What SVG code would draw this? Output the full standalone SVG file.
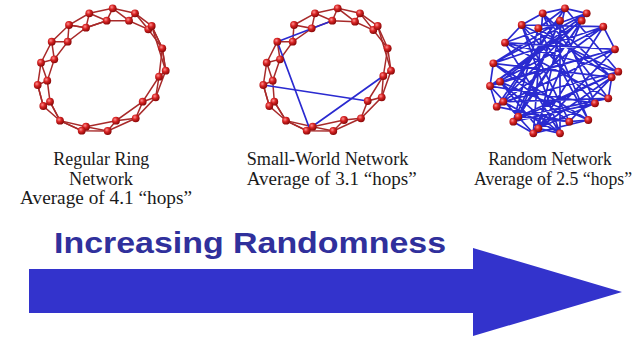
<svg xmlns="http://www.w3.org/2000/svg" width="640" height="337" viewBox="0 0 640 337">
<style>
.ring{stroke:#a82a2a;stroke-width:1.5;fill:none;stroke-linecap:round}
.blue{stroke:#2a2ad0;stroke-width:1.7;fill:none;stroke-linecap:round}
.ball{fill:url(#ballg)}
.lbl{font-family:"Liberation Serif","Times New Roman",serif;font-size:18.5px;fill:#1a1a1a}
.title{font-family:"Liberation Sans",Arial,sans-serif;font-weight:bold;font-size:30px;fill:#30309c}
</style>
<defs>
<radialGradient id="ballg" cx="0.38" cy="0.35" r="0.65">
<stop offset="0" stop-color="#ff9090"/>
<stop offset="0.45" stop-color="#d82424"/>
<stop offset="1" stop-color="#8a0808"/>
</radialGradient>
<circle id="b" r="3.9" class="ball"/>
</defs>
<rect width="640" height="337" fill="#ffffff"/>

<g id="regular-ring-network">
<g class="ring">
<path d="M89.3,13.3L106.7,20.7L112.7,8.3L129,20.7L135,13.3L148.3,29.3L151.7,26L162.3,48.3L165.7,70.7L159,76.7L155.7,97.3L142.7,101.7L135.7,118.3L116,120.7L107.7,131L86,126.7L81.7,130.7L60,120.7L50,101.7L43.3,106L37.7,85L47.3,80.7L41,62.7L54.3,59.3L51.7,41.7L67.7,41.7L69,25L86,27.7Z"/>
<path d="M89.3,13.3L112.7,8.3L135,13.3L151.7,26L165.7,70.7L155.7,97.3L135.7,118.3L107.7,131L81.7,130.7L60,120.7L43.3,106L37.7,85L41,62.7L51.7,41.7L69,25Z"/>
<path d="M106.7,20.7L129,20.7L148.3,29.3L162.3,48.3L159,76.7L142.7,101.7L116,120.7L86,126.7L60,120.7L50,101.7L47.3,80.7L54.3,59.3L67.7,41.7L86,27.7Z"/>
<path d="M162.3,48.3L165.7,70.7M151.7,26L162.3,48.3M86,27.7L106.7,20.7M69,25L86,27.7"/>
</g>
<g>
<use href="#b" x="89.3" y="13.3"/><use href="#b" x="106.7" y="20.7"/><use href="#b" x="112.7" y="8.3"/><use href="#b" x="129" y="20.7"/><use href="#b" x="135" y="13.3"/><use href="#b" x="148.3" y="29.3"/><use href="#b" x="151.7" y="26"/><use href="#b" x="162.3" y="48.3"/><use href="#b" x="165.7" y="70.7"/><use href="#b" x="159" y="76.7"/><use href="#b" x="155.7" y="97.3"/><use href="#b" x="142.7" y="101.7"/><use href="#b" x="135.7" y="118.3"/><use href="#b" x="116" y="120.7"/><use href="#b" x="107.7" y="131"/><use href="#b" x="86" y="126.7"/><use href="#b" x="81.7" y="130.7"/><use href="#b" x="60" y="120.7"/><use href="#b" x="50" y="101.7"/><use href="#b" x="43.3" y="106"/><use href="#b" x="37.7" y="85"/><use href="#b" x="47.3" y="80.7"/><use href="#b" x="41" y="62.7"/><use href="#b" x="54.3" y="59.3"/><use href="#b" x="51.7" y="41.7"/><use href="#b" x="67.7" y="41.7"/><use href="#b" x="69" y="25"/><use href="#b" x="86" y="27.7"/>
</g>
</g>

<g id="small-world-network">
<g class="ring">
<path d="M315,13.3L332.3,20.7L337.7,8.3L355,21.7L360,13.3L373.3,30L377.7,26L387.7,48.3L391,70.7L383.3,76L381.7,97.3L367.7,101L361,118.3L344,120L333.3,131L312.7,126.7L306.7,130.7L286,120.7L274.3,101.7L269.3,106L263.3,85L272.7,80.7L266.7,62.7L280,59.3L277.3,41.7L292.7,41.7L294,25L311.7,28.3Z"/>
<path d="M315,13.3L337.7,8.3L360,13.3L377.7,26L391,70.7L381.7,97.3L361,118.3L333.3,131L306.7,130.7L286,120.7L269.3,106L263.3,85L266.7,62.7L277.3,41.7"/>
<path d="M294,25L315,13.3"/>
<path d="M332.3,20.7L355,21.7L373.3,30L387.7,48.3L383.3,76L367.7,101M344,120L312.7,126.7L286,120.7L274.3,101.7L272.7,80.7L280,59.3L292.7,41.7L311.7,28.3L332.3,20.7"/>
</g>
<g class="blue">
<path d="M277.3,41.7L309.5,128.5"/>
<path d="M309.5,128.5L383.3,76"/>
<path d="M263.3,85L367.7,101"/>
<path d="M277.3,41.7L332.3,20.7"/>
</g>
<g>
<use href="#b" x="315" y="13.3"/><use href="#b" x="332.3" y="20.7"/><use href="#b" x="337.7" y="8.3"/><use href="#b" x="355" y="21.7"/><use href="#b" x="360" y="13.3"/><use href="#b" x="373.3" y="30"/><use href="#b" x="377.7" y="26"/><use href="#b" x="387.7" y="48.3"/><use href="#b" x="391" y="70.7"/><use href="#b" x="383.3" y="76"/><use href="#b" x="381.7" y="97.3"/><use href="#b" x="367.7" y="101"/><use href="#b" x="361" y="118.3"/><use href="#b" x="344" y="120"/><use href="#b" x="333.3" y="131"/><use href="#b" x="312.7" y="126.7"/><use href="#b" x="306.7" y="130.7"/><use href="#b" x="286" y="120.7"/><use href="#b" x="274.3" y="101.7"/><use href="#b" x="269.3" y="106"/><use href="#b" x="263.3" y="85"/><use href="#b" x="272.7" y="80.7"/><use href="#b" x="266.7" y="62.7"/><use href="#b" x="280" y="59.3"/><use href="#b" x="277.3" y="41.7"/><use href="#b" x="292.7" y="41.7"/><use href="#b" x="294" y="25"/><use href="#b" x="311.7" y="28.3"/>
</g>
</g>

<g id="random-network">
<g class="blue">
<path d="M565,8.3L538.3,128.3M565,8.3L496.7,106.7M565,8.3L618.3,71.7M586.7,13.3L490,86M586.7,13.3L513.3,121.7M586.7,13.3L505,42.7M542.7,13.3L608.3,98.3M542.7,13.3L588.3,120M542.7,13.3L611.7,77.3M560,20.7L560,133.3M560,20.7L493.3,63.3M560,20.7L595,103.3M581.7,20.7L500,81.7M581.7,20.7L533.3,133.3M581.7,20.7L518.3,116.7M603.3,26.7L490,86M603.3,26.7L538.3,128.3M603.3,26.7L521.7,25M521.7,25L569.3,121.7M521.7,25L595,103.3M521.7,25L618.3,71.7M538.3,28.3L588.3,120M538.3,28.3L611.7,77.3M538.3,28.3L513.3,121.7M505,42.7L615,49.3M505,42.7L560,133.3M505,42.7L608.3,98.3M615,49.3L496.7,106.7M615,49.3L533.3,133.3M615,49.3L500,81.7M493.3,63.3L611.7,77.3M493.3,63.3L569.3,121.7M493.3,63.3L603.3,26.7M618.3,71.7L503.3,101.7M618.3,71.7L518.3,116.7M611.7,77.3L538.3,128.3M490,86L595,103.3M490,86L615,49.3M500,81.7L588.3,120M500,81.7L560,133.3M608.3,98.3L518.3,116.7M608.3,98.3L503.3,101.7M595,103.3L513.3,121.7M496.7,106.7L569.3,121.7M496.7,106.7L586.7,13.3M503.3,101.7L560,133.3M503.3,101.7L603.3,26.7M588.3,120L533.3,133.3M588.3,120L493.3,63.3M569.3,121.7L518.3,116.7M560,133.3L521.7,25M538.3,128.3L500,81.7M533.3,133.3L542.7,13.3M513.3,121.7L618.3,71.7M518.3,116.7L560,20.7M565,8.3L538.3,28.3M542.7,13.3L521.7,25M611.7,77.3L569.3,121.7M595,103.3L538.3,128.3M490,86L581.7,20.7M503.3,101.7L565,8.3M513.3,121.7L560,20.7M618.3,71.7L505,42.7M533.3,133.3L490,86M586.7,13.3L493.3,63.3"/>
<path d="M565,8.3L586.7,13.3M542.7,13.3L565,8.3M521.7,25L505,42.7M493.3,63.3L490,86M496.7,106.7L503.3,101.7M560,133.3L538.3,128.3M611.7,77.3L608.3,98.3M588.3,120L569.3,121.7M603.3,26.7L615,49.3M490,86L496.7,106.7M513.3,121.7L533.3,133.3"/>
</g>
<g>
<use href="#b" x="565" y="8.3"/><use href="#b" x="586.7" y="13.3"/><use href="#b" x="542.7" y="13.3"/><use href="#b" x="560" y="20.7"/><use href="#b" x="581.7" y="20.7"/><use href="#b" x="603.3" y="26.7"/><use href="#b" x="521.7" y="25"/><use href="#b" x="538.3" y="28.3"/><use href="#b" x="505" y="42.7"/><use href="#b" x="615" y="49.3"/><use href="#b" x="493.3" y="63.3"/><use href="#b" x="618.3" y="71.7"/><use href="#b" x="611.7" y="77.3"/><use href="#b" x="490" y="86"/><use href="#b" x="500" y="81.7"/><use href="#b" x="608.3" y="98.3"/><use href="#b" x="595" y="103.3"/><use href="#b" x="496.7" y="106.7"/><use href="#b" x="503.3" y="101.7"/><use href="#b" x="588.3" y="120"/><use href="#b" x="569.3" y="121.7"/><use href="#b" x="560" y="133.3"/><use href="#b" x="538.3" y="128.3"/><use href="#b" x="533.3" y="133.3"/><use href="#b" x="513.3" y="121.7"/><use href="#b" x="518.3" y="116.7"/>
</g>
</g>

<g id="label-regular-ring">
<text class="lbl" x="53.3" y="165" textLength="96" lengthAdjust="spacingAndGlyphs">Regular Ring</text>
<text class="lbl" x="69" y="185" textLength="64" lengthAdjust="spacingAndGlyphs">Network</text>
<text class="lbl" x="20" y="204" textLength="172" lengthAdjust="spacingAndGlyphs">Average of 4.1 “hops”</text>
</g>
<g id="label-small-world">
<text class="lbl" x="246.7" y="165" textLength="161.6" lengthAdjust="spacingAndGlyphs">Small-World Network</text>
<text class="lbl" x="246.7" y="185" textLength="170" lengthAdjust="spacingAndGlyphs">Average of 3.1 “hops”</text>
</g>
<g id="label-random">
<text class="lbl" x="488.3" y="165" textLength="123.4" lengthAdjust="spacingAndGlyphs">Random Network</text>
<text class="lbl" x="474" y="185" textLength="158" lengthAdjust="spacingAndGlyphs">Average of 2.5 “hops”</text>
</g>

<g id="randomness-arrow">
<polygon points="29,269 473,269 473,248 622,292 473,336 473,313 29,313" fill="#3333cc"/>
<text class="title" x="54" y="253" textLength="392" lengthAdjust="spacingAndGlyphs">Increasing Randomness</text>
</g>
</svg>
